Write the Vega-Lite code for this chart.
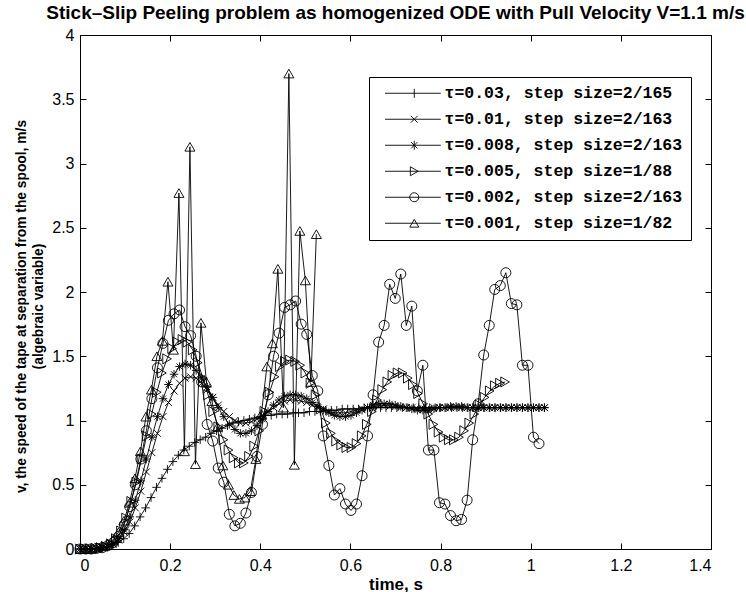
{
"$schema": "https://vega.github.io/schema/vega-lite/v6.json",
"width": 631, "height": 514,
"autosize": {"type": "none"},
"padding": {"left": 80, "top": 35, "right": 35, "bottom": 43},
"background": "white",
"title": {"text": "Stick–Slip Peeling problem as homogenized ODE with Pull Velocity V=1.1 m/s", "font": "Liberation Sans", "fontSize": 19, "fontWeight": "bold", "color": "black", "anchor": "middle", "baseline": "alphabetic", "offset": 8, "dy": 19},
"config": {
  "view": {"stroke": "black", "strokeWidth": 1},
  "axis": {"domainColor": "black", "domainWidth": 1, "tickColor": "black", "tickWidth": 1, "tickSize": -6, "grid": false,
    "labelFont": "Liberation Sans", "labelFontSize": 16, "labelColor": "black",
    "titleFont": "Liberation Sans", "titleFontSize": 17, "titleFontWeight": "bold", "titleColor": "black"},
  "legend": {"orient": "none", "legendX": 289, "legendY": 42, "strokeColor": "black", "fillColor": "white", "padding": 8,
    "labelFont": "Liberation Mono", "labelFontSize": 16.5, "labelFontWeight": "bold", "labelColor": "black", "labelLimit": 0,
    "symbolSize": 81, "symbolStrokeWidth": 0.9, "symbolStrokeColor": "black", "symbolFillColor": "transparent",
    "symbolOffset": 29, "labelOffset": 22, "rowPadding": 9}
},
"data": {"values": [
{"s":"A","t":0,"v":0},{"s":"A","t":0.0121,"v":0},{"s":"A","t":0.0242,"v":0},{"s":"A","t":0.0364,"v":0.003},{"s":"A","t":0.0485,"v":0.008},{"s":"A","t":0.0606,"v":0.015},{"s":"A","t":0.0727,"v":0.03},{"s":"A","t":0.0848,"v":0.05},{"s":"A","t":0.097,"v":0.08},{"s":"A","t":0.1091,"v":0.12},{"s":"A","t":0.1212,"v":0.18},{"s":"A","t":0.1333,"v":0.25},{"s":"A","t":0.1455,"v":0.32},{"s":"A","t":0.1576,"v":0.4},{"s":"A","t":0.1697,"v":0.48},{"s":"A","t":0.1818,"v":0.55},{"s":"A","t":0.1939,"v":0.62},{"s":"A","t":0.2061,"v":0.68},{"s":"A","t":0.2182,"v":0.73},{"s":"A","t":0.2303,"v":0.77},{"s":"A","t":0.2424,"v":0.8},{"s":"A","t":0.2545,"v":0.83},{"s":"A","t":0.2667,"v":0.85},{"s":"A","t":0.2788,"v":0.87},{"s":"A","t":0.2909,"v":0.9},{"s":"A","t":0.303,"v":0.92},{"s":"A","t":0.3152,"v":0.94},{"s":"A","t":0.3273,"v":0.96},{"s":"A","t":0.3394,"v":0.98},{"s":"A","t":0.3515,"v":0.99},{"s":"A","t":0.3636,"v":1.0},{"s":"A","t":0.3758,"v":1.01},{"s":"A","t":0.3879,"v":1.02},{"s":"A","t":0.4,"v":1.03},{"s":"A","t":0.4121,"v":1.04},{"s":"A","t":0.4242,"v":1.04},{"s":"A","t":0.4364,"v":1.05},{"s":"A","t":0.4485,"v":1.05},{"s":"A","t":0.4606,"v":1.05},{"s":"A","t":0.4727,"v":1.06},{"s":"A","t":0.4848,"v":1.06},{"s":"A","t":0.497,"v":1.06},{"s":"A","t":0.5091,"v":1.07},{"s":"A","t":0.5212,"v":1.07},{"s":"A","t":0.5333,"v":1.07},{"s":"A","t":0.5455,"v":1.08},{"s":"A","t":0.5576,"v":1.08},{"s":"A","t":0.5697,"v":1.08},{"s":"A","t":0.5818,"v":1.09},{"s":"A","t":0.5939,"v":1.09},{"s":"A","t":0.6061,"v":1.09},{"s":"A","t":0.6182,"v":1.09},{"s":"A","t":0.6303,"v":1.1},{"s":"A","t":0.6424,"v":1.1},{"s":"A","t":0.6545,"v":1.1},{"s":"A","t":0.6667,"v":1.1},{"s":"A","t":0.6788,"v":1.1},{"s":"A","t":0.6909,"v":1.1},{"s":"A","t":0.703,"v":1.1},{"s":"A","t":0.7152,"v":1.1},{"s":"A","t":0.7273,"v":1.1},{"s":"A","t":0.7394,"v":1.1},{"s":"A","t":0.7515,"v":1.1},{"s":"A","t":0.7636,"v":1.1},{"s":"A","t":0.7758,"v":1.1},{"s":"A","t":0.7879,"v":1.1},{"s":"A","t":0.8,"v":1.1},{"s":"A","t":0.8121,"v":1.1},{"s":"A","t":0.8242,"v":1.1},{"s":"A","t":0.8364,"v":1.1},{"s":"A","t":0.8485,"v":1.1},{"s":"A","t":0.8606,"v":1.1},{"s":"A","t":0.8727,"v":1.1},{"s":"A","t":0.8848,"v":1.1},{"s":"A","t":0.897,"v":1.1},{"s":"A","t":0.9091,"v":1.1},{"s":"A","t":0.9212,"v":1.1},{"s":"A","t":0.9333,"v":1.1},{"s":"A","t":0.9455,"v":1.1},{"s":"A","t":0.9576,"v":1.1},{"s":"A","t":0.9697,"v":1.1},{"s":"A","t":0.9818,"v":1.1},{"s":"A","t":0.9939,"v":1.1},{"s":"A","t":1.0061,"v":1.1},{"s":"A","t":1.0182,"v":1.1},{"s":"A","t":1.0303,"v":1.1},
{"s":"B","t":0,"v":0},{"s":"B","t":0.0123,"v":0},{"s":"B","t":0.0245,"v":0},{"s":"B","t":0.0368,"v":0.004},{"s":"B","t":0.0491,"v":0.009},{"s":"B","t":0.0613,"v":0.018},{"s":"B","t":0.0736,"v":0.035},{"s":"B","t":0.0859,"v":0.07},{"s":"B","t":0.0982,"v":0.13},{"s":"B","t":0.1104,"v":0.21},{"s":"B","t":0.1227,"v":0.32},{"s":"B","t":0.135,"v":0.45},{"s":"B","t":0.1472,"v":0.6},{"s":"B","t":0.1595,"v":0.75},{"s":"B","t":0.1718,"v":0.9},{"s":"B","t":0.184,"v":1.03},{"s":"B","t":0.1963,"v":1.14},{"s":"B","t":0.2086,"v":1.23},{"s":"B","t":0.2209,"v":1.29},{"s":"B","t":0.2331,"v":1.33},{"s":"B","t":0.2454,"v":1.34},{"s":"B","t":0.2577,"v":1.33},{"s":"B","t":0.2699,"v":1.29},{"s":"B","t":0.2822,"v":1.24},{"s":"B","t":0.2945,"v":1.18},{"s":"B","t":0.3067,"v":1.12},{"s":"B","t":0.319,"v":1.07},{"s":"B","t":0.3313,"v":1.03},{"s":"B","t":0.3436,"v":1.0},{"s":"B","t":0.3558,"v":0.98},{"s":"B","t":0.3681,"v":0.98},{"s":"B","t":0.3804,"v":0.99},{"s":"B","t":0.3926,"v":1.01},{"s":"B","t":0.4049,"v":1.04},{"s":"B","t":0.4172,"v":1.07},{"s":"B","t":0.4294,"v":1.1},{"s":"B","t":0.4417,"v":1.13},{"s":"B","t":0.454,"v":1.15},{"s":"B","t":0.4663,"v":1.16},{"s":"B","t":0.4785,"v":1.16},{"s":"B","t":0.4908,"v":1.15},{"s":"B","t":0.5031,"v":1.14},{"s":"B","t":0.5153,"v":1.12},{"s":"B","t":0.5276,"v":1.1},{"s":"B","t":0.5399,"v":1.09},{"s":"B","t":0.5521,"v":1.07},{"s":"B","t":0.5644,"v":1.06},{"s":"B","t":0.5767,"v":1.06},{"s":"B","t":0.589,"v":1.06},{"s":"B","t":0.6012,"v":1.07},{"s":"B","t":0.6135,"v":1.08},{"s":"B","t":0.6258,"v":1.09},{"s":"B","t":0.638,"v":1.1},{"s":"B","t":0.6503,"v":1.11},{"s":"B","t":0.6626,"v":1.11},{"s":"B","t":0.6748,"v":1.12},{"s":"B","t":0.6871,"v":1.11},{"s":"B","t":0.6994,"v":1.11},{"s":"B","t":0.7117,"v":1.1},{"s":"B","t":0.7239,"v":1.1},{"s":"B","t":0.7362,"v":1.1},{"s":"B","t":0.7485,"v":1.09},{"s":"B","t":0.7607,"v":1.09},{"s":"B","t":0.773,"v":1.09},{"s":"B","t":0.7853,"v":1.1},{"s":"B","t":0.7975,"v":1.1},{"s":"B","t":0.8098,"v":1.1},{"s":"B","t":0.8221,"v":1.1},{"s":"B","t":0.8344,"v":1.1},{"s":"B","t":0.8466,"v":1.1},{"s":"B","t":0.8589,"v":1.1},{"s":"B","t":0.8712,"v":1.1},{"s":"B","t":0.8834,"v":1.1},{"s":"B","t":0.8957,"v":1.1},{"s":"B","t":0.908,"v":1.1},{"s":"B","t":0.9202,"v":1.1},{"s":"B","t":0.9325,"v":1.1},{"s":"B","t":0.9448,"v":1.1},{"s":"B","t":0.957,"v":1.1},{"s":"B","t":0.9693,"v":1.1},{"s":"B","t":0.9816,"v":1.1},{"s":"B","t":0.9939,"v":1.1},{"s":"B","t":1.0061,"v":1.1},{"s":"B","t":1.0184,"v":1.1},{"s":"B","t":1.0307,"v":1.1},
{"s":"C","t":0,"v":0},{"s":"C","t":0.0123,"v":0},{"s":"C","t":0.0245,"v":0},{"s":"C","t":0.0368,"v":0.005},{"s":"C","t":0.0491,"v":0.01},{"s":"C","t":0.0613,"v":0.02},{"s":"C","t":0.0736,"v":0.04},{"s":"C","t":0.0859,"v":0.08},{"s":"C","t":0.0982,"v":0.15},{"s":"C","t":0.1104,"v":0.25},{"s":"C","t":0.1227,"v":0.38},{"s":"C","t":0.135,"v":0.53},{"s":"C","t":0.1472,"v":0.7},{"s":"C","t":0.1595,"v":0.87},{"s":"C","t":0.1718,"v":1.03},{"s":"C","t":0.184,"v":1.17},{"s":"C","t":0.1963,"v":1.28},{"s":"C","t":0.2086,"v":1.36},{"s":"C","t":0.2209,"v":1.42},{"s":"C","t":0.2331,"v":1.44},{"s":"C","t":0.2454,"v":1.43},{"s":"C","t":0.2577,"v":1.39},{"s":"C","t":0.2699,"v":1.33},{"s":"C","t":0.2822,"v":1.26},{"s":"C","t":0.2945,"v":1.18},{"s":"C","t":0.3067,"v":1.1},{"s":"C","t":0.319,"v":1.03},{"s":"C","t":0.3313,"v":0.97},{"s":"C","t":0.3436,"v":0.93},{"s":"C","t":0.3558,"v":0.9},{"s":"C","t":0.3681,"v":0.9},{"s":"C","t":0.3804,"v":0.92},{"s":"C","t":0.3926,"v":0.96},{"s":"C","t":0.4049,"v":1.01},{"s":"C","t":0.4172,"v":1.07},{"s":"C","t":0.4294,"v":1.12},{"s":"C","t":0.4417,"v":1.16},{"s":"C","t":0.454,"v":1.19},{"s":"C","t":0.4663,"v":1.2},{"s":"C","t":0.4785,"v":1.2},{"s":"C","t":0.4908,"v":1.19},{"s":"C","t":0.5031,"v":1.17},{"s":"C","t":0.5153,"v":1.14},{"s":"C","t":0.5276,"v":1.11},{"s":"C","t":0.5399,"v":1.08},{"s":"C","t":0.5521,"v":1.06},{"s":"C","t":0.5644,"v":1.04},{"s":"C","t":0.5767,"v":1.03},{"s":"C","t":0.589,"v":1.03},{"s":"C","t":0.6012,"v":1.04},{"s":"C","t":0.6135,"v":1.06},{"s":"C","t":0.6258,"v":1.08},{"s":"C","t":0.638,"v":1.1},{"s":"C","t":0.6503,"v":1.12},{"s":"C","t":0.6626,"v":1.13},{"s":"C","t":0.6748,"v":1.13},{"s":"C","t":0.6871,"v":1.13},{"s":"C","t":0.6994,"v":1.12},{"s":"C","t":0.7117,"v":1.11},{"s":"C","t":0.7239,"v":1.1},{"s":"C","t":0.7362,"v":1.09},{"s":"C","t":0.7485,"v":1.08},{"s":"C","t":0.7607,"v":1.08},{"s":"C","t":0.773,"v":1.08},{"s":"C","t":0.7853,"v":1.09},{"s":"C","t":0.7975,"v":1.1},{"s":"C","t":0.8098,"v":1.1},{"s":"C","t":0.8221,"v":1.11},{"s":"C","t":0.8344,"v":1.11},{"s":"C","t":0.8466,"v":1.11},{"s":"C","t":0.8589,"v":1.1},{"s":"C","t":0.8712,"v":1.1},{"s":"C","t":0.8834,"v":1.1},{"s":"C","t":0.8957,"v":1.1},{"s":"C","t":0.908,"v":1.1},{"s":"C","t":0.9202,"v":1.1},{"s":"C","t":0.9325,"v":1.1},{"s":"C","t":0.9448,"v":1.1},{"s":"C","t":0.957,"v":1.1},{"s":"C","t":0.9693,"v":1.1},{"s":"C","t":0.9816,"v":1.1},{"s":"C","t":0.9939,"v":1.1},{"s":"C","t":1.0061,"v":1.1},{"s":"C","t":1.0184,"v":1.1},{"s":"C","t":1.0307,"v":1.1},
{"s":"D","t":0,"v":0},{"s":"D","t":0.0114,"v":0},{"s":"D","t":0.0227,"v":0},{"s":"D","t":0.0341,"v":0.005},{"s":"D","t":0.0455,"v":0.01},{"s":"D","t":0.0568,"v":0.02},{"s":"D","t":0.0682,"v":0.04},{"s":"D","t":0.0795,"v":0.08},{"s":"D","t":0.0909,"v":0.14},{"s":"D","t":0.1023,"v":0.24},{"s":"D","t":0.1136,"v":0.37},{"s":"D","t":0.125,"v":0.52},{"s":"D","t":0.1364,"v":0.7},{"s":"D","t":0.1477,"v":0.88},{"s":"D","t":0.1591,"v":1.05},{"s":"D","t":0.1705,"v":1.22},{"s":"D","t":0.1818,"v":1.37},{"s":"D","t":0.1932,"v":1.48},{"s":"D","t":0.2045,"v":1.56},{"s":"D","t":0.2159,"v":1.61},{"s":"D","t":0.2273,"v":1.63},{"s":"D","t":0.2386,"v":1.61},{"s":"D","t":0.25,"v":1.55},{"s":"D","t":0.2614,"v":1.45},{"s":"D","t":0.2727,"v":1.33},{"s":"D","t":0.2841,"v":1.2},{"s":"D","t":0.2955,"v":1.07},{"s":"D","t":0.3068,"v":0.95},{"s":"D","t":0.3182,"v":0.85},{"s":"D","t":0.3295,"v":0.77},{"s":"D","t":0.3409,"v":0.71},{"s":"D","t":0.3523,"v":0.67},{"s":"D","t":0.3636,"v":0.67},{"s":"D","t":0.375,"v":0.72},{"s":"D","t":0.3864,"v":0.8},{"s":"D","t":0.3977,"v":0.92},{"s":"D","t":0.4091,"v":1.07},{"s":"D","t":0.4205,"v":1.22},{"s":"D","t":0.4318,"v":1.34},{"s":"D","t":0.4432,"v":1.42},{"s":"D","t":0.4545,"v":1.46},{"s":"D","t":0.4659,"v":1.47},{"s":"D","t":0.4773,"v":1.46},{"s":"D","t":0.4886,"v":1.43},{"s":"D","t":0.5,"v":1.37},{"s":"D","t":0.5114,"v":1.29},{"s":"D","t":0.5227,"v":1.2},{"s":"D","t":0.5341,"v":1.09},{"s":"D","t":0.5455,"v":0.98},{"s":"D","t":0.5568,"v":0.9},{"s":"D","t":0.5682,"v":0.84},{"s":"D","t":0.5795,"v":0.81},{"s":"D","t":0.5909,"v":0.79},{"s":"D","t":0.6023,"v":0.79},{"s":"D","t":0.6136,"v":0.82},{"s":"D","t":0.625,"v":0.88},{"s":"D","t":0.6364,"v":0.97},{"s":"D","t":0.6477,"v":1.07},{"s":"D","t":0.6591,"v":1.16},{"s":"D","t":0.6705,"v":1.24},{"s":"D","t":0.6818,"v":1.3},{"s":"D","t":0.6932,"v":1.35},{"s":"D","t":0.7045,"v":1.37},{"s":"D","t":0.7159,"v":1.37},{"s":"D","t":0.7273,"v":1.33},{"s":"D","t":0.7386,"v":1.28},{"s":"D","t":0.75,"v":1.21},{"s":"D","t":0.7614,"v":1.13},{"s":"D","t":0.7727,"v":1.05},{"s":"D","t":0.7841,"v":0.97},{"s":"D","t":0.7955,"v":0.91},{"s":"D","t":0.8068,"v":0.87},{"s":"D","t":0.8182,"v":0.85},{"s":"D","t":0.8295,"v":0.85},{"s":"D","t":0.8409,"v":0.87},{"s":"D","t":0.8523,"v":0.92},{"s":"D","t":0.8636,"v":0.98},{"s":"D","t":0.875,"v":1.05},{"s":"D","t":0.8864,"v":1.12},{"s":"D","t":0.8977,"v":1.18},{"s":"D","t":0.9091,"v":1.23},{"s":"D","t":0.9205,"v":1.27},{"s":"D","t":0.9318,"v":1.29},{"s":"D","t":0.9432,"v":1.3},
{"s":"E","t":0,"v":0},{"s":"E","t":0.0123,"v":0},{"s":"E","t":0.0245,"v":0},{"s":"E","t":0.0368,"v":0.005},{"s":"E","t":0.0491,"v":0.01},{"s":"E","t":0.0613,"v":0.025},{"s":"E","t":0.0736,"v":0.05},{"s":"E","t":0.0859,"v":0.1},{"s":"E","t":0.0982,"v":0.19},{"s":"E","t":0.1104,"v":0.33},{"s":"E","t":0.1227,"v":0.5},{"s":"E","t":0.135,"v":0.7},{"s":"E","t":0.1472,"v":0.92},{"s":"E","t":0.1595,"v":1.17},{"s":"E","t":0.1718,"v":1.41},{"s":"E","t":0.184,"v":1.6},{"s":"E","t":0.1963,"v":1.78},{"s":"E","t":0.2086,"v":1.83},{"s":"E","t":0.2209,"v":1.86},{"s":"E","t":0.2331,"v":1.73},{"s":"E","t":0.2454,"v":1.66},{"s":"E","t":0.2577,"v":1.5},{"s":"E","t":0.2699,"v":1.3},{"s":"E","t":0.2822,"v":0.97},{"s":"E","t":0.2945,"v":0.84},{"s":"E","t":0.3067,"v":0.63},{"s":"E","t":0.319,"v":0.52},{"s":"E","t":0.3313,"v":0.27},{"s":"E","t":0.3436,"v":0.18},{"s":"E","t":0.3558,"v":0.2},{"s":"E","t":0.3681,"v":0.28},{"s":"E","t":0.3804,"v":0.44},{"s":"E","t":0.3926,"v":0.72},{"s":"E","t":0.4049,"v":0.97},{"s":"E","t":0.4172,"v":1.2},{"s":"E","t":0.4294,"v":1.5},{"s":"E","t":0.4417,"v":1.68},{"s":"E","t":0.454,"v":1.88},{"s":"E","t":0.4663,"v":1.9},{"s":"E","t":0.4785,"v":1.93},{"s":"E","t":0.4908,"v":1.75},{"s":"E","t":0.5031,"v":1.67},{"s":"E","t":0.5153,"v":1.35},{"s":"E","t":0.5276,"v":1.23},{"s":"E","t":0.5399,"v":0.88},{"s":"E","t":0.5521,"v":0.65},{"s":"E","t":0.5644,"v":0.42},{"s":"E","t":0.5767,"v":0.47},{"s":"E","t":0.589,"v":0.35},{"s":"E","t":0.6012,"v":0.3},{"s":"E","t":0.6135,"v":0.35},{"s":"E","t":0.6258,"v":0.57},{"s":"E","t":0.638,"v":0.88},{"s":"E","t":0.6503,"v":1.2},{"s":"E","t":0.6626,"v":1.61},{"s":"E","t":0.6748,"v":1.74},{"s":"E","t":0.6871,"v":2.06},{"s":"E","t":0.6994,"v":1.95},{"s":"E","t":0.7117,"v":2.14},{"s":"E","t":0.7239,"v":1.74},{"s":"E","t":0.7362,"v":1.89},{"s":"E","t":0.7485,"v":1.23},{"s":"E","t":0.7607,"v":1.43},{"s":"E","t":0.773,"v":0.77},{"s":"E","t":0.7853,"v":0.77},{"s":"E","t":0.7975,"v":0.36},{"s":"E","t":0.8098,"v":0.35},{"s":"E","t":0.8221,"v":0.26},{"s":"E","t":0.8344,"v":0.22},{"s":"E","t":0.8466,"v":0.23},{"s":"E","t":0.8589,"v":0.38},{"s":"E","t":0.8712,"v":0.85},{"s":"E","t":0.8834,"v":1.13},{"s":"E","t":0.8957,"v":1.51},{"s":"E","t":0.908,"v":1.74},{"s":"E","t":0.9202,"v":2.02},{"s":"E","t":0.9325,"v":2.05},{"s":"E","t":0.9448,"v":2.15},{"s":"E","t":0.957,"v":1.91},{"s":"E","t":0.9693,"v":1.9},{"s":"E","t":0.9816,"v":1.43},{"s":"E","t":0.9939,"v":1.43},{"s":"E","t":1.0061,"v":0.87},{"s":"E","t":1.0184,"v":0.82},
{"s":"F","t":0,"v":0},{"s":"F","t":0.0122,"v":0},{"s":"F","t":0.0244,"v":0},{"s":"F","t":0.0366,"v":0.01},{"s":"F","t":0.0488,"v":0.02},{"s":"F","t":0.061,"v":0.04},{"s":"F","t":0.0732,"v":0.07},{"s":"F","t":0.0854,"v":0.13},{"s":"F","t":0.0976,"v":0.22},{"s":"F","t":0.1098,"v":0.36},{"s":"F","t":0.122,"v":0.55},{"s":"F","t":0.1341,"v":0.76},{"s":"F","t":0.1463,"v":1.03},{"s":"F","t":0.1585,"v":1.24},{"s":"F","t":0.1707,"v":1.5},{"s":"F","t":0.1829,"v":1.62},{"s":"F","t":0.1951,"v":2.08},{"s":"F","t":0.2073,"v":1.55},{"s":"F","t":0.2195,"v":2.77},{"s":"F","t":0.2317,"v":0.76},{"s":"F","t":0.2439,"v":3.13},{"s":"F","t":0.2561,"v":0.66},{"s":"F","t":0.2683,"v":1.76},{"s":"F","t":0.2805,"v":1.3},{"s":"F","t":0.2927,"v":1.15},{"s":"F","t":0.3049,"v":0.95},{"s":"F","t":0.3171,"v":0.65},{"s":"F","t":0.3293,"v":0.5},{"s":"F","t":0.3415,"v":0.42},{"s":"F","t":0.3537,"v":0.39},{"s":"F","t":0.3659,"v":0.4},{"s":"F","t":0.378,"v":0.45},{"s":"F","t":0.3902,"v":0.7},{"s":"F","t":0.4024,"v":1.05},{"s":"F","t":0.4146,"v":1.42},{"s":"F","t":0.4268,"v":1.6},{"s":"F","t":0.439,"v":2.18},{"s":"F","t":0.4512,"v":1.1},{"s":"F","t":0.4634,"v":3.7},{"s":"F","t":0.4756,"v":0.655},{"s":"F","t":0.4878,"v":2.475},{"s":"F","t":0.5,"v":2.09},{"s":"F","t":0.5122,"v":1.3},{"s":"F","t":0.5244,"v":2.45}
]},
"layer": [
  {"mark": {"type": "line", "color": "black", "strokeWidth": 0.9},
   "encoding": {
     "x": {"field": "t", "type": "quantitative", "scale": {"domain": [0, 1.4], "nice": false, "zero": false},
           "axis": {"orient": "bottom", "values": [0, 0.2, 0.4, 0.6, 0.8, 1, 1.2, 1.4], "format": "~g", "title": "time, s", "labelPadding": 14, "titlePadding": 3}},
     "y": {"field": "v", "type": "quantitative", "scale": {"domain": [0, 4], "nice": false, "zero": false},
           "axis": {"orient": "left", "values": [0, 0.5, 1, 1.5, 2, 2.5, 3, 3.5, 4], "format": "~g", "title": ["v, the speed of the tape at separation from the spool, m/s", "(algebraic variable)"], "titleFontSize": 13.8, "titleLineHeight": 17.5, "titleY": 271, "labelPadding": 12, "titlePadding": 6}},
     "detail": {"field": "s", "type": "nominal"},
     "order": {"field": "t", "type": "quantitative"}
   }},
  {"mark": {"type": "point", "filled": false, "stroke": "black", "strokeWidth": 0.9, "size": 100, "opacity": 1},
   "encoding": {
     "x": {"field": "t", "type": "quantitative", "scale": {"domain": [0, 1.4], "nice": false, "zero": false},
           "axis": {"orient": "top", "values": [0, 0.2, 0.4, 0.6, 0.8, 1, 1.2, 1.4], "labels": false, "title": null}},
     "y": {"field": "v", "type": "quantitative", "scale": {"domain": [0, 4], "nice": false, "zero": false},
           "axis": {"orient": "right", "values": [0, 0.5, 1, 1.5, 2, 2.5, 3, 3.5, 4], "labels": false, "title": null}},
     "shape": {"field": "s", "type": "nominal",
       "scale": {"domain": ["A", "B", "C", "D", "E", "F"],
                 "range": ["M-0.85,0L0.85,0M0,-0.85L0,0.85", "M-0.7,-0.7L0.7,0.7M-0.7,0.7L0.7,-0.7", "M-0.85,0L0.85,0M0,-0.85L0,0.85M-0.6,-0.6L0.6,0.6M-0.6,0.6L0.6,-0.6", "triangle-right", "circle", "triangle-up"]},
       "legend": null}
   }},
  {"transform": [{"filter": "datum.t < 0"}],
   "mark": {"type": "point", "filled": false, "stroke": "black", "strokeWidth": 0.9, "size": 81, "opacity": 1},
   "encoding": {
     "shape": {"field": "s", "type": "nominal",
       "scale": {"domain": ["A", "B", "C", "D", "E", "F"],
                 "range": ["M-6.5,0L5.9,0M0,-1L0,1", "M-6.5,0L5.9,0M-0.75,-0.75L0.75,0.75M-0.75,0.75L0.75,-0.75", "M-6.5,0L5.9,0M0,-1L0,1M-0.7,-0.7L0.7,0.7M-0.7,0.7L0.7,-0.7", "M-6.5,0L5.9,0M0.866,0L-0.866,-1L-0.866,1Z", "M-6.5,0L5.9,0M1,0A1,1,0,1,1,-1,0A1,1,0,1,1,1,0", "M-6.5,0L5.9,0M0,-0.866L-1,0.866L1,0.866Z"]},
       "legend": {"title": null,
         "labelExpr": "datum.label === 'A' ? 'τ=0.03, step size=2/165' : datum.label === 'B' ? 'τ=0.01, step size=2/163' : datum.label === 'C' ? 'τ=0.008, step size=2/163' : datum.label === 'D' ? 'τ=0.005, step size=1/88' : datum.label === 'E' ? 'τ=0.002, step size=2/163' : 'τ=0.001, step size=1/82'"}}
   }}
],
"resolve": {"axis": {"x": "independent", "y": "independent"}, "scale": {"shape": "independent"}}
}
